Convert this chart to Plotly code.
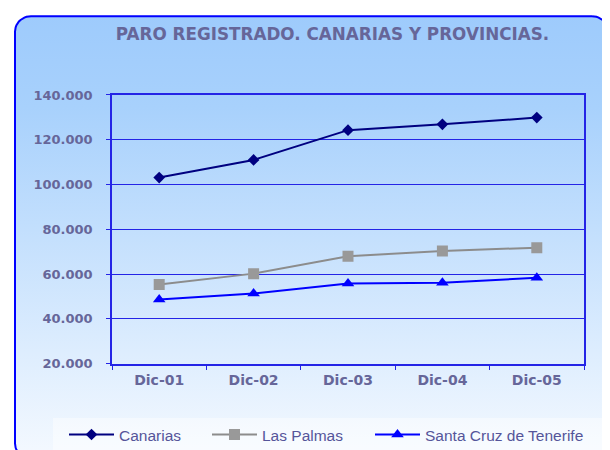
import numpy as np
import plotly.graph_objects as go

# ---- data ----
categories = ["Dic-01", "Dic-02", "Dic-03", "Dic-04", "Dic-05"]
canarias = [103100, 111000, 124300, 126900, 129900]
las_palmas = [55400, 60200, 68000, 70300, 71800]
santa_cruz = [48600, 51300, 55800, 56100, 58400]
y_ticks = [20000, 40000, 60000, 80000, 100000, 120000, 140000]
title_text = "PARO REGISTRADO. CANARIAS Y PROVINCIAS."

W, H = 603, 452
TXT = "#666699"
BLUE = "#2424e6"


def fx(xr):  # screen x -> figure px
    return xr - 7


def fy(yr):  # screen y -> figure px
    return (yr - 14) / 0.967


def px(xr):
    return fx(xr) / W


def py(yr):
    return 1 - fy(yr) / H


fig = go.Figure()


# ---- rounded, gradient-filled chart frame (decoration) ----
def rounded_rect(x0, y0, x1, y1, r, n=12):
    xs, ys = [], []
    corners = [(x1 - r, y0 + r, -90, 0), (x1 - r, y1 - r, 0, 90),
               (x0 + r, y1 - r, 90, 180), (x0 + r, y0 + r, 180, 270)]
    for cx, cy, a0, a1 in corners:
        for a in np.linspace(np.radians(a0), np.radians(a1), n):
            xs.append(cx + r * np.cos(a))
            ys.append(cy + r * np.sin(a))
    xs.append(xs[0]); ys.append(ys[0])
    return xs, ys


top, bot = 1.2, fy(458)
bx, by = rounded_rect(fx(14), top, fx(607), bot, 16)
fig.add_trace(go.Scatter(
    x=bx, y=by, mode="lines", fill="toself",
    line=dict(color="#0000ff", width=2),
    fillgradient=dict(type="vertical", start=top, stop=bot,
                      colorscale=[[0, "#9ecbfc"], [0.2, "#a8d1fc"], [1, "#f8fbff"]]),
    hoverinfo="skip", showlegend=False, xaxis="x", yaxis="y"))

# ---- data series ----
fig.add_trace(go.Scatter(
    x=categories, y=canarias, name="Canarias", mode="lines+markers",
    line=dict(color="#000080", width=2),
    marker=dict(symbol="diamond", size=9, color="#000080"),
    xaxis="x2", yaxis="y2", legend="legend"))
fig.add_trace(go.Scatter(
    x=categories, y=las_palmas, name="Las Palmas", mode="lines+markers",
    line=dict(color="#8c8c8c", width=2),
    marker=dict(symbol="square", size=11, color="#999999"),
    xaxis="x2", yaxis="y2", legend="legend2"))
fig.add_trace(go.Scatter(
    x=categories, y=santa_cruz, name="Santa Cruz de Tenerife", mode="lines+markers",
    line=dict(color="#0000ff", width=2),
    marker=dict(symbol="triangle-up", size=11, color="#0000ff"),
    xaxis="x2", yaxis="y2", legend="legend3"))

legend_font = dict(family="Liberation Sans, Arial", size=15.5, color="#55559a")


def make_legend(xr):
    return dict(orientation="h", x=px(xr), xanchor="left", y=py(434),
                yanchor="middle", bgcolor="rgba(0,0,0,0)", itemwidth=45,
                font=legend_font)


fig.update_layout(
    width=W, height=H,
    margin=dict(l=0, r=0, t=0, b=0),
    paper_bgcolor="white", plot_bgcolor="rgba(0,0,0,0)",
    separators=",.",
    showlegend=True,
    title=dict(text=title_text, x=px(331.5), xanchor="center", xref="paper",
               y=py(33), yanchor="middle", yref="paper",
               font=dict(family="DejaVu Sans", size=16.8, color=TXT, weight="bold")),
    xaxis=dict(domain=[0, 1], range=[0, W], visible=False, fixedrange=True),
    yaxis=dict(domain=[0, 1], range=[H, 0], visible=False, fixedrange=True),
    xaxis2=dict(domain=[px(111), px(583)], anchor="y2", type="category",
                range=[-0.5, len(categories) - 0.5],
                showgrid=False, showline=True, linecolor=BLUE, linewidth=1.5,
                mirror=True, ticks="outside", ticklen=5, tickcolor=BLUE,
                tickson="boundaries", ticklabelstandoff=3,
                tickfont=dict(family="DejaVu Sans", size=14, color=TXT, weight="bold"),
                zeroline=False),
    yaxis2=dict(domain=[py(362.7), py(94)], anchor="x2", range=[20000, 140000],
                tickvals=y_ticks, tickformat=",d",
                showgrid=True, gridcolor=BLUE, gridwidth=1,
                showline=True, linecolor=BLUE, linewidth=1.5, mirror=True,
                ticks="outside", ticklen=4, tickcolor=BLUE, ticklabelstandoff=11,
                tickfont=dict(family="DejaVu Sans", size=13, color=TXT, weight="bold"),
                zeroline=False),
    legend=make_legend(63),
    legend2=make_legend(206),
    legend3=make_legend(369),
    shapes=[dict(type="rect", xref="paper", yref="paper", layer="above",
                 x0=px(52), x1=px(604), y0=0, y1=py(417),
                 fillcolor="rgba(255,255,255,0.45)", line=dict(width=0))],
)

fig.write_html("out.html")
